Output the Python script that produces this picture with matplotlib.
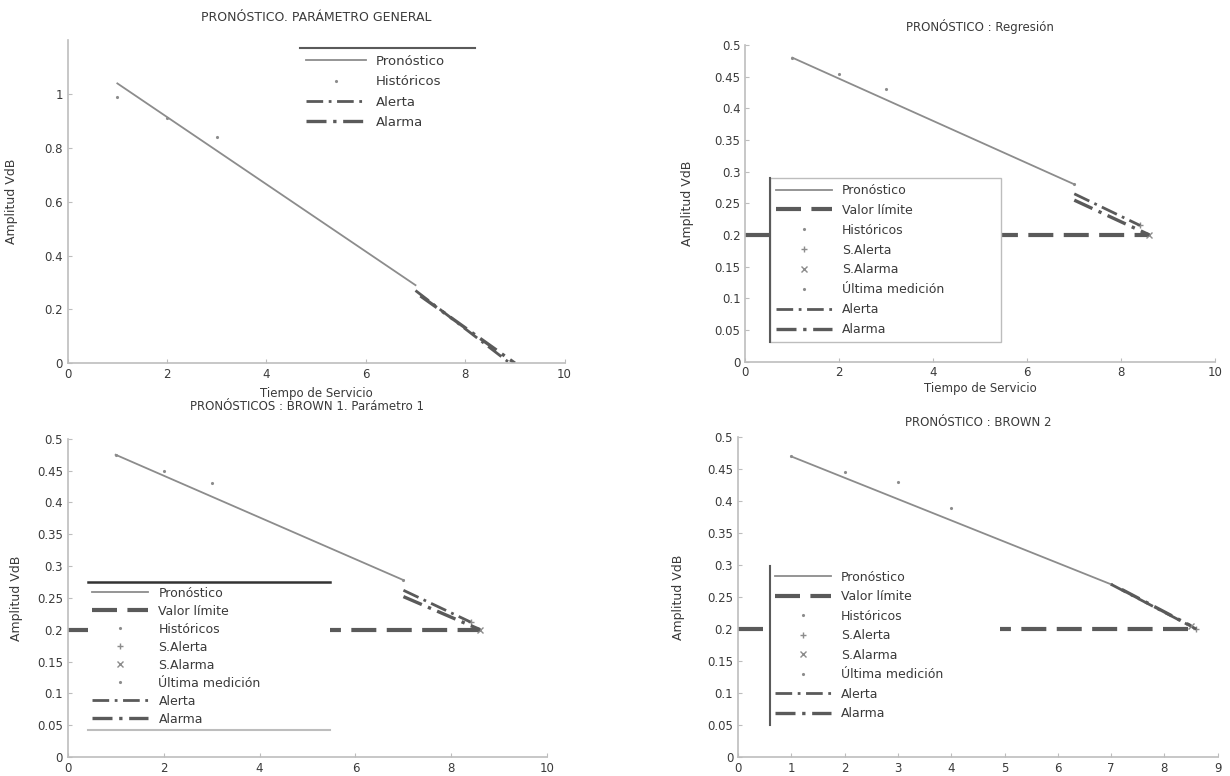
import matplotlib
matplotlib.use('Agg')
import matplotlib.pyplot as plt
from matplotlib.lines import Line2D

# ---- datos ----
t_hist = [1, 2, 3]

# panel 1: parametro general
p1_hist = [0.99, 0.91, 0.84]
p1_fc_t = [1, 7]
p1_fc = [1.04, 0.29]
p1_alerta_t = [7, 8.9]
p1_alerta = [0.27, 0.0]
p1_alarma_t = [7.1, 9.0]
p1_alarma = [0.25, 0.0]

# panel 2: regresion
p2_hist = [0.48, 0.455, 0.43]
p2_fc_t = [1, 7]
p2_fc = [0.48, 0.28]
p2_alerta_t = [7, 8.4]
p2_alerta = [0.265, 0.215]
p2_alarma_t = [7, 8.6]
p2_alarma = [0.255, 0.2]
p2_lim_t = [0, 8.6]
p2_lim = [0.2, 0.2]

# panel 3: brown 1
p3_hist = [0.475, 0.45, 0.43]
p3_fc_t = [1, 7]
p3_fc = [0.475, 0.278]
p3_alerta_t = [7, 8.4]
p3_alerta = [0.262, 0.212]
p3_alarma_t = [7, 8.6]
p3_alarma = [0.252, 0.2]
p3_lim_t = [0, 8.6]
p3_lim = [0.2, 0.2]

# panel 4: brown 2
t_hist4 = [1, 2, 3, 4]
p4_hist = [0.47, 0.445, 0.43, 0.39]
p4_fc_t = [1, 7]
p4_fc = [0.47, 0.27]
p4_alerta_t = [7, 8.6]
p4_alerta = [0.27, 0.2]
p4_alarma_t = [7.2, 8.5]
p4_alarma = [0.262, 0.205]
p4_lim_t = [0, 8.6]
p4_lim = [0.2, 0.2]

C_FC = '#8c8c8c'
C_DARK = '#5a5a5a'
C_AX = '#bdbdbd'
C_TXT = '#3a3a3a'

plt.rcParams['font.family'] = ['DejaVu Sans']
plt.rcParams['font.size'] = 8

fig = plt.figure(figsize=[12.3, 7.76], dpi=100)


def estilo(ax, xt, yt, ylim, xlim, pad):
    for s in ['top', 'right']:
        ax.spines[s].set_visible(False)
    for s in ['left', 'bottom']:
        ax.spines[s].set_color(C_AX)
        ax.spines[s].set_linewidth(1.2)
    ax.set_xlim(xlim)
    ax.set_ylim(ylim)
    ax.set_xticks(xt)
    ax.set_yticks(yt)
    ax.set_xticklabels([('%g' % v) for v in xt])
    ax.set_yticklabels([('%g' % v) for v in yt])
    ax.tick_params(direction='in', length=3, color=C_AX, labelcolor=C_TXT,
                   labelsize=8.5)
    ax.set_ylabel('Amplitud VdB', color=C_TXT, fontsize=9, labelpad=pad)


def graficar(ax, th, hist, fc_t, fc, al_t, al, am_t, am, lim_t=None, lim=None):
    ax.plot(fc_t, fc, color=C_FC, lw=1.3, label='Pronóstico')
    if lim_t is not None:
        ax.plot(lim_t, lim, color=C_DARK, lw=3, ls=(0, (6, 2.5)),
                label='Valor límite')
    ax.plot(th, hist, ls='none', marker='.', ms=2.5, color=C_FC,
            label='Históricos')
    if lim_t is not None:
        ax.plot([al_t[-1]], [al[-1]], ls='none', marker='+', ms=5,
                color=C_FC, label='S.Alerta')
        ax.plot([am_t[-1]], [am[-1]], ls='none', marker='x', ms=4,
                color=C_FC, label='S.Alarma')
        ax.plot([fc_t[-1]], [fc[-1]], ls='none', marker='.', ms=2.5,
                color=C_FC, label='Última medición')
    ax.plot(al_t, al, color=C_DARK, lw=2, ls=(0, (6, 2, 1, 2)), label='Alerta')
    ax.plot(am_t, am, color=C_DARK, lw=2.4, ls=(0, (6, 2, 1, 2)), label='Alarma')


# ---- panel 1 ----
ax1 = fig.add_axes([0.055, 0.532, 0.404, 0.416])
graficar(ax1, t_hist, p1_hist, p1_fc_t, p1_fc, p1_alerta_t, p1_alerta,
         p1_alarma_t, p1_alarma)
estilo(ax1, [0, 2, 4, 6, 8, 10], [0, 0.2, 0.4, 0.6, 0.8, 1], [0, 1.2], [0, 10], 19)
ax1.set_title('PRONÓSTICO. PARÁMETRO GENERAL', color=C_TXT, fontsize=9, pad=14)
ax1.set_xlabel('Tiempo de Servicio', color=C_TXT, fontsize=8.5, labelpad=4)
leg1 = ax1.legend(loc='upper left', bbox_to_anchor=(0.467, 0.975, 0.352, 0.0),
                  mode='expand', fontsize=9.5, handlelength=4.5,
                  labelspacing=0.55, borderaxespad=0, borderpad=0.5)

# ---- panel 2 ----
yt5 = [0, 0.05, 0.1, 0.15, 0.2, 0.25, 0.3, 0.35, 0.4, 0.45, 0.5]
ax2 = fig.add_axes([0.606, 0.534, 0.382, 0.408])
graficar(ax2, t_hist, p2_hist, p2_fc_t, p2_fc, p2_alerta_t, p2_alerta,
         p2_alarma_t, p2_alarma, p2_lim_t, p2_lim)
estilo(ax2, [0, 2, 4, 6, 8, 10], yt5, [0, 0.5], [0, 10], 15)
ax2.set_title('PRONÓSTICO : Regresión', color=C_TXT, fontsize=8.5, pad=10)
ax2.set_xlabel('Tiempo de Servicio', color=C_TXT, fontsize=8.5, labelpad=2)
leg2 = ax2.legend(loc='lower left', bbox_to_anchor=(0.053, 0.063, 0.49, 0.0),
                  mode='expand', fontsize=9, handlelength=4.5,
                  labelspacing=0.55, borderaxespad=0, borderpad=0.45)

# ---- panel 3 ----
ax3 = fig.add_axes([0.055, 0.0245, 0.39, 0.41])
graficar(ax3, t_hist, p3_hist, p3_fc_t, p3_fc, p3_alerta_t, p3_alerta,
         p3_alarma_t, p3_alarma, p3_lim_t, p3_lim)
estilo(ax3, [0, 2, 4, 6, 8, 10], yt5, [0, 0.5], [0, 10], 10)
ax3.set_title('PRONÓSTICOS : BROWN 1. Parámetro 1', color=C_TXT, fontsize=8.5,
              pad=21)
leg3 = ax3.legend(loc='lower left', bbox_to_anchor=(0.042, 0.085, 0.505, 0.0),
                  mode='expand', fontsize=9, handlelength=4.5,
                  labelspacing=0.4, borderaxespad=0, borderpad=0.35)

# ---- panel 4 ----
ax4 = fig.add_axes([0.6, 0.0245, 0.39, 0.412])
graficar(ax4, t_hist4, p4_hist, p4_fc_t, p4_fc, p4_alerta_t, p4_alerta,
         p4_alarma_t, p4_alarma, p4_lim_t, p4_lim)
estilo(ax4, list(range(10)), yt5, [0, 0.5], [0, 9], 16)
ax4.set_title('PRONÓSTICO : BROWN 2', color=C_TXT, fontsize=8.5, pad=8)
leg4 = ax4.legend(loc='lower left', bbox_to_anchor=(0.066, 0.1, 0.48, 0.0),
                  mode='expand', fontsize=9, handlelength=4.5,
                  labelspacing=0.52, borderaxespad=0, borderpad=0.4)

for lg in [leg1, leg2, leg3, leg4]:
    fr = lg.get_frame()
    fr.set_facecolor('white')
    fr.set_alpha(1)
    fr.set_boxstyle('square', pad=0)
    for tx in lg.get_texts():
        tx.set_color(C_TXT)
for lg in [leg1, leg3, leg4]:
    lg.get_frame().set_edgecolor('none')
leg2.get_frame().set_edgecolor(C_AX)

# lineas sueltas del borde de las leyendas
fig.canvas.draw()
inv = fig.transFigure.inverted()


def borde(lg, lado, color, lw):
    bb = lg.get_window_extent().transformed(inv)
    if lado == 'top':
        xs, ys = [bb.x0, bb.x1], [bb.y1, bb.y1]
    elif lado == 'bottom':
        xs, ys = [bb.x0, bb.x1], [bb.y0, bb.y0]
    else:
        xs, ys = [bb.x0, bb.x0], [bb.y0, bb.y1]
    fig.add_artist(Line2D(xs, ys, color=color, lw=lw, transform=fig.transFigure))


borde(leg1, 'top', C_DARK, 1.5)
borde(leg2, 'left', C_DARK, 1.5)
borde(leg3, 'top', '#333333', 1.8)
borde(leg3, 'bottom', C_AX, 1.5)
borde(leg4, 'left', C_DARK, 1.5)

fig.savefig('out.png', dpi=100)
